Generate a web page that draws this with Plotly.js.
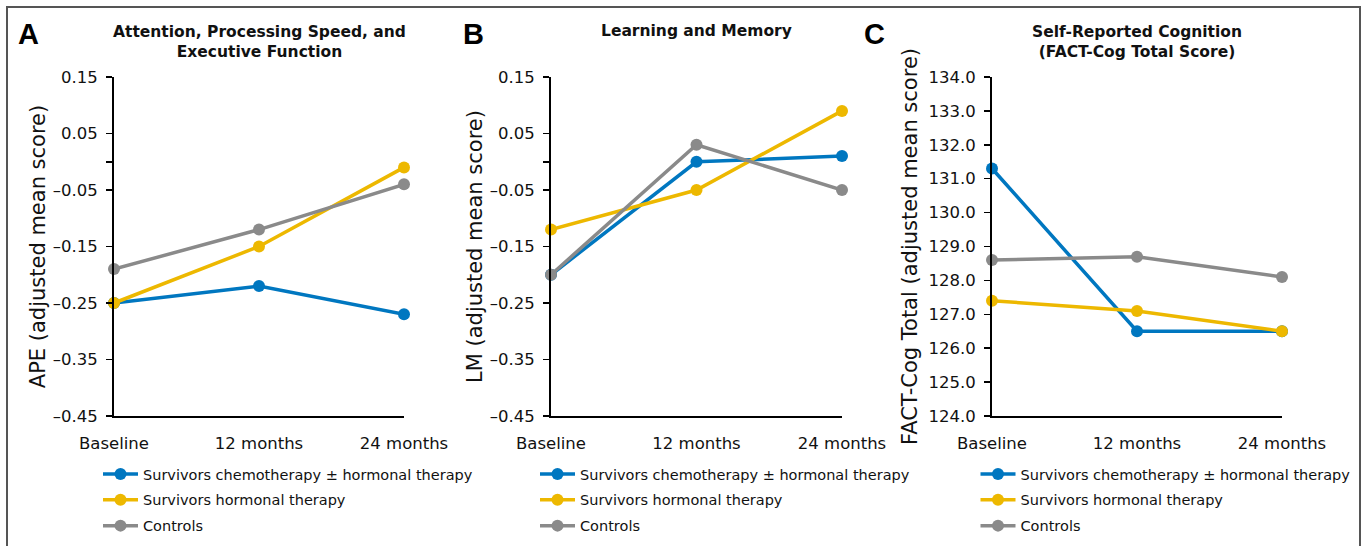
<!DOCTYPE html>
<html>
<head>
<meta charset="utf-8">
<script src="https://cdn.plot.ly/plotly-3.0.1.min.js"></script>
<style>html,body{margin:0;padding:0;background:#fff;}#chart{width:1371px;height:546px;}</style>
</head>
<body>
<div id="chart"></div>
<script>
// ---- data ----
const timepoints = ['Baseline', '12 months', '24 months'];
const seriesNames = ['Survivors chemotherapy ± hormonal therapy', 'Survivors hormonal therapy', 'Controls'];

const apeChemo = [-0.25, -0.22, -0.27];
const apeHormonal = [-0.25, -0.15, -0.01];
const apeControls = [-0.19, -0.12, -0.04];

const lmChemo = [-0.20, 0.00, 0.01];
const lmHormonal = [-0.12, -0.05, 0.09];
const lmControls = [-0.20, 0.03, -0.05];

const factChemo = [131.3, 126.5, 126.5];
const factHormonal = [127.4, 127.1, 126.5];
const factControls = [128.6, 128.7, 128.1];

const scoreTickVals = [0.15, 0.05, -0.05, -0.15, -0.25, -0.35, -0.45, 0];
const scoreTickText = ['0.15', '0.05', '–0.05', '–0.15', '–0.25', '–0.35', '–0.45', ''];
const factTickVals = [124, 125, 126, 127, 128, 129, 130, 131, 132, 133, 134];

const panelLetters = ['A', 'B', 'C'];
const panelTitles = ['Attention, Processing Speed, and<br>Executive Function', 'Learning and Memory', 'Self-Reported Cognition<br>(FACT-Cog Total Score)'];
const yTitles = ['APE (adjusted mean score)', 'LM (adjusted mean score)', 'FACT-Cog Total (adjusted mean score)'];

// ---- styling ----
const W = 1371, H = 546;
const colors = ['#0077C0', '#EDB800', '#8A8A8A'];
const FONT = 'DejaVu Sans, Liberation Sans, Arial, sans-serif';
const px = v => v / W;
const py = v => 1 - v / H;

const panels = [
  {x: 'x', y: 'y', legend: 'legend', data: [apeChemo, apeHormonal, apeControls]},
  {x: 'x2', y: 'y2', legend: 'legend2', data: [lmChemo, lmHormonal, lmControls]},
  {x: 'x3', y: 'y3', legend: 'legend3', data: [factChemo, factHormonal, factControls]}
];

const traces = [];
panels.forEach((p, pi) => {
  p.data.forEach((vals, si) => {
    traces.push({
      type: 'scatter', mode: 'lines+markers',
      x: timepoints, y: vals, xaxis: p.x, yaxis: p.y,
      name: seriesNames[si], legend: p.legend, legendgroup: 'g' + pi + si,
      line: {color: colors[si], width: 3.5},
      marker: {color: colors[si], size: 12},
      cliponaxis: false
    });
  });
});

const xDomains = [[px(114), px(404)], [px(551), px(842)], [px(992), px(1282)]];
const yDomain = [py(416), py(77)];
const layout = {
  width: W, height: H,
  margin: {l: 0, r: 0, t: 0, b: 0},
  paper_bgcolor: '#fff', plot_bgcolor: '#fff',
  font: {family: FONT, color: '#111', size: 16.5},
  annotations: [], shapes: []
};

const xKeys = ['xaxis', 'xaxis2', 'xaxis3'];
const yKeys = ['yaxis', 'yaxis2', 'yaxis3'];
const yAnchors = ['y', 'y2', 'y3'];
const xAnchors = ['x', 'x2', 'x3'];
for (let i = 0; i < 3; i++) {
  layout[xKeys[i]] = {
    domain: xDomains[i], anchor: yAnchors[i], type: 'category', range: [0, 2],
    showline: true, linecolor: '#000', linewidth: 2, showgrid: false, zeroline: false,
    ticks: '', tickfont: {size: 16.5, family: FONT, color: '#111'}, ticklabelstandoff: 11
  };
  const isFact = i === 2;
  layout[yKeys[i]] = {
    domain: yDomain, anchor: xAnchors[i],
    range: isFact ? [124, 134] : [-0.45, 0.15],
    tickmode: 'array',
    tickvals: isFact ? factTickVals : scoreTickVals,
    ticktext: isFact ? factTickVals.map(v => v.toFixed(1)) : scoreTickText,
    showline: true, linecolor: '#000', linewidth: 2, showgrid: false, zeroline: false,
    ticks: 'outside', ticklen: 6, tickwidth: 1.5, tickcolor: '#000',
    tickfont: {size: 16.5, family: FONT, color: '#111'}, ticklabelstandoff: 5,
    title: {text: yTitles[i], font: {size: 21, family: FONT, color: '#111'}, standoff: isFact ? 5 : 1}
  };
}

const legendX = [98, 535, 975.5];
['legend', 'legend2', 'legend3'].forEach((k, i) => {
  layout[k] = {
    x: px(legendX[i]), xanchor: 'left', y: py(458), yanchor: 'top',
    bgcolor: 'rgba(0,0,0,0)', borderwidth: 0,
    font: {size: 14.5, family: FONT, color: '#111'},
    itemwidth: 35, traceorder: 'grouped', tracegroupgap: 4
  };
});

const titleCenters = [259, 696.5, 1137];
for (let i = 0; i < 3; i++) {
  layout.annotations.push({
    text: panelTitles[i], xref: 'paper', yref: 'paper',
    x: px(titleCenters[i]), y: py(i === 1 ? 31 : 42), xanchor: 'center', yanchor: 'middle',
    showarrow: false, font: {size: 15.5, family: FONT, color: '#111', weight: 'bold'}
  });
}
const letterX = [28.5, 473, 874];
for (let i = 0; i < 3; i++) {
  layout.annotations.push({
    text: '<b>' + panelLetters[i] + '</b>', xref: 'paper', yref: 'paper',
    x: px(letterX[i]), y: py(33.5), xanchor: 'center', yanchor: 'middle',
    showarrow: false, font: {size: 29, family: 'Liberation Sans, Arial, sans-serif', color: '#000'}
  });
}

layout.shapes.push({
  type: 'rect', xref: 'paper', yref: 'paper',
  x0: px(7), x1: px(1360), y0: -0.1, y1: py(7),
  line: {color: '#555', width: 2}, fillcolor: 'rgba(0,0,0,0)'
});

Plotly.newPlot('chart', traces, layout, {displayModeBar: false, staticPlot: true});
</script>
</body>
</html>
